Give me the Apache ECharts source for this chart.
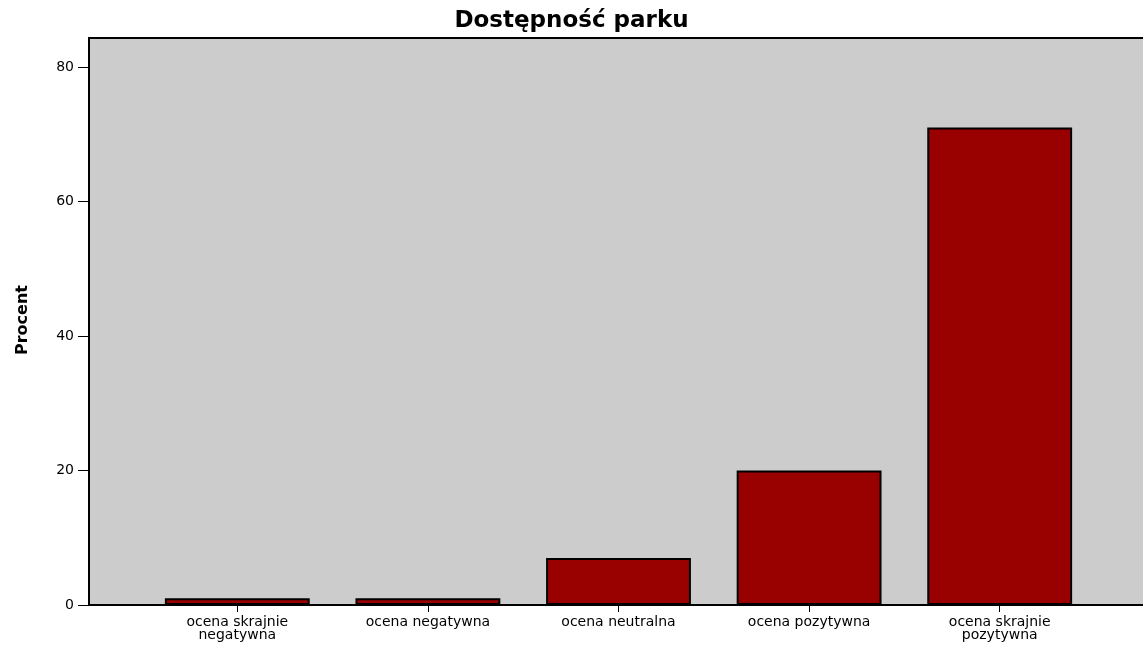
<!DOCTYPE html>
<html><head><meta charset="utf-8">
<script src="https://cdn.jsdelivr.net/npm/echarts@6/dist/echarts.min.js"></script>
<style>html,body{margin:0;padding:0;background:#fff}#c{width:1143px;height:650px}</style>
</head><body><div id="c"></div>
<script>
const titleText = 'Dostępność parku';
const categories = ['ocena skrajnie\nnegatywna', 'ocena negatywna', 'ocena neutralna', 'ocena pozytywna', 'ocena skrajnie\npozytywna'];
const percentValues = [1, 1, 7, 20, 71];
const yTicks = [0, 20, 40, 60, 80];
const yAxisName = 'Procent';

const chart = echarts.init(document.getElementById('c'), null, {renderer: 'canvas'});
const F = '"DejaVu Sans", Verdana, sans-serif';
chart.setOption({
  animation: false,
  backgroundColor: '#fff',
  title: {text: titleText, left: 'center', top: 5,
    textStyle: {fontFamily: F, fontSize: 23, fontWeight: 'bold', color: '#000'}},
  graphic: [{type: 'rect', z: -10, silent: true,
    shape: {x: 89, y: 38, width: 1058, height: 567},
    style: {fill: '#cccccc', stroke: '#000', lineWidth: 2}}],
  grid: {left: 142, right: 48, top: 67, bottom: 45},
  xAxis: {type: 'category', data: categories,
    axisLine: {show: true, lineStyle: {color: '#000', width: 2}},
    axisTick: {show: true, alignWithLabel: true, length: 7, lineStyle: {color: '#000', width: 1}},
    axisLabel: {color: '#000', fontFamily: F, fontSize: 14, lineHeight: 13, margin: 11, interval: 0}},
  yAxis: {type: 'value', min: 0, max: 80, interval: 20, offset: 53,
    name: yAxisName, nameLocation: 'middle', nameGap: 58,
    nameTextStyle: {fontFamily: F, fontSize: 16, fontWeight: 'bold', color: '#000', padding: [0, 0, 0, 32]},
    axisLine: {show: true, lineStyle: {color: '#000', width: 2}},
    axisTick: {show: true, length: 11, lineStyle: {color: '#000', width: 1}},
    axisLabel: {color: '#000', fontFamily: F, fontSize: 14, margin: 15,
      formatter: v => yTicks.includes(v) ? String(v) : ''},
    splitLine: {show: false}},
  series: [{type: 'bar', data: percentValues, barWidth: '76%',
    itemStyle: {color: '#990000', borderColor: '#000', borderWidth: 2}}]
});
</script></body></html>
